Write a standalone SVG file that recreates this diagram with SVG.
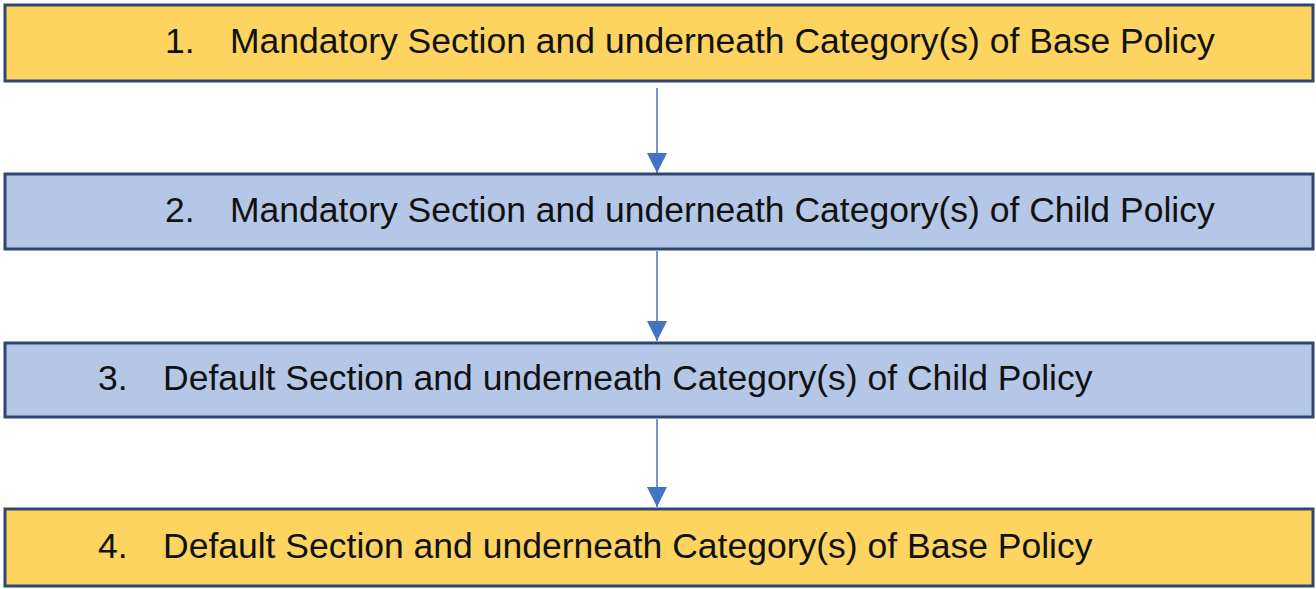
<svg xmlns="http://www.w3.org/2000/svg" width="1316" height="589" viewBox="0 0 1316 589">
<style>
.box{stroke:#2f4770;stroke-width:3}
.y{fill:#fdd45f}
.b{fill:#b4c7e7}
text{font-family:"Liberation Sans",Arial,sans-serif;font-size:35.5px;fill:#111}
.conn line{stroke:#4a72c4;stroke-width:1.5}
</style>
<defs>
<marker id="ah" markerWidth="20" markerHeight="20" refX="20" refY="10" orient="auto" markerUnits="userSpaceOnUse">
<path d="M0,0 L20,10 L0,20 Z" fill="#4472c4"/>
</marker>
</defs>
<rect width="1316" height="589" fill="#fff"/>
<g class="conn">
<line x1="657" y1="88" x2="657" y2="173" marker-end="url(#ah)"/>
<line x1="657" y1="251" x2="657" y2="341" marker-end="url(#ah)"/>
<line x1="657" y1="419" x2="657" y2="507" marker-end="url(#ah)"/>
</g>
<g id="n1">
<rect class="box y" x="5" y="5" width="1308" height="76"/>
<text x="165" y="53">1.</text><text x="230" y="53">Mandatory Section and underneath Category(s) of Base Policy</text>
</g>
<g id="n2">
<rect class="box b" x="5" y="174" width="1308" height="75"/>
<text x="165" y="222">2.</text><text x="230" y="222">Mandatory Section and underneath Category(s) of Child Policy</text>
</g>
<g id="n3">
<rect class="box b" x="5" y="343" width="1308" height="74"/>
<text x="98" y="390">3.</text><text x="163" y="390">Default Section and underneath Category(s) of Child Policy</text>
</g>
<g id="n4">
<rect class="box y" x="5" y="509" width="1308" height="77"/>
<text x="98" y="558">4.</text><text x="163" y="558">Default Section and underneath Category(s) of Base Policy</text>
</g>
</svg>
